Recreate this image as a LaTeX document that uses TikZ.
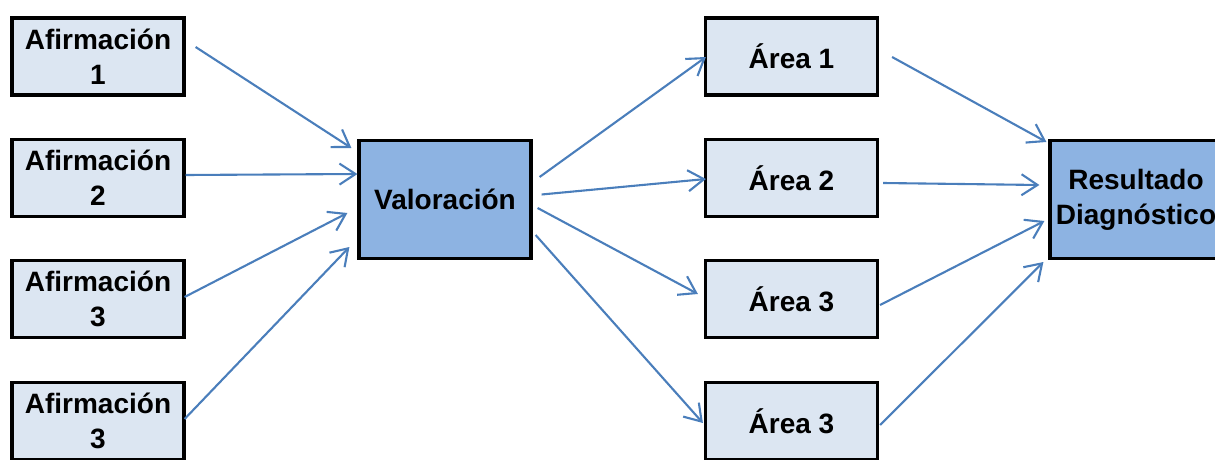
\documentclass[tikz,border=0pt]{standalone}
\usepackage{fontspec}
\setmainfont{Liberation Sans}
\usetikzlibrary{arrows.meta,calc}
\definecolor{boxlight}{HTML}{DCE6F2}
\definecolor{boxdark}{HTML}{8DB3E2}
\definecolor{arrowblue}{HTML}{4A7EBB}
\tikzset{
  lbox/.style={draw=black, line width=1.6pt, fill=boxlight, minimum width=86pt, minimum height=38.5pt, inner sep=0pt, align=center, font=\bfseries\fontsize{14}{17.5}\selectfont},
  dbox/.style={lbox, fill=boxdark, minimum height=59pt},
  conn/.style={draw=arrowblue, line width=1.05pt, -{Straight Barb[length=8pt,width=10.5pt]}}
}
\begin{document}
\begin{tikzpicture}[x=0.5pt,y=-0.5pt]
\useasboundingbox (0,0) rectangle (1215,460);
% left column
\node[lbox] (a1) at (98,56.5) {Afirmación\\1};
\node[lbox] (a2) at (98,178) {Afirmación\\2};
\node[lbox] (a3) at (98,299) {Afirmación\\3};
\node[lbox] (a4) at (98,421) {Afirmación\\3};
% centre
\node[dbox] (val) at (445,199.5) {Valoración};
% areas
\node[lbox] (r1) at (791.5,56.5) {Área 1};
\node[lbox] (r2) at (791.5,178) {Área 2};
\node[lbox] (r3) at (791.5,299) {Área 3};
\node[lbox] (r4) at (791.5,421) {Área 3};
% result
\node[dbox] (res) at (1136,199.5) {Resultado\\Diagnóstico};
% connectors into Valoración
\draw[conn] ($(a1.east)+(10,-9.5)$) -- ($(val.west)+(-6,-51.5)$);
\draw[conn] ($(a2.east)+(0,-3)$) -- ($(val.west)+(0,-25.5)$);
\draw[conn] ($(a3.east)+(-1,-2)$) -- ($(val.west)+(-10,13.5)$);
\draw[conn] ($(a4.east)+(-1,-2)$) -- ($(val.west)+(-8,47.5)$);
% connectors to areas
\draw[conn] ($(val.east)+(7,-22.5)$) -- ($(r1.west)+(2,0.5)$);
\draw[conn] ($(val.east)+(9,-5)$) -- ($(r2.west)+(2,1)$);
\draw[conn] ($(val.east)+(5,8.5)$) -- ($(r3.west)+(-6,-5)$);
\draw[conn] ($(val.east)+(3,35.5)$) -- ($(r4.west)+(-1,2)$);
% connectors to result
\draw[conn] ($(r1.east)+(13,0.5)$) -- ($(res.west)+(-2,-57.5)$);
\draw[conn] ($(r2.east)+(4,5)$) -- ($(res.west)+(-9,-14.5)$);
\draw[conn] ($(r3.east)+(1,6)$) -- ($(res.west)+(-4,21.5)$);
\draw[conn] ($(r4.east)+(1,4)$) -- ($(res.west)+(-5,62.5)$);
\end{tikzpicture}
\end{document}
